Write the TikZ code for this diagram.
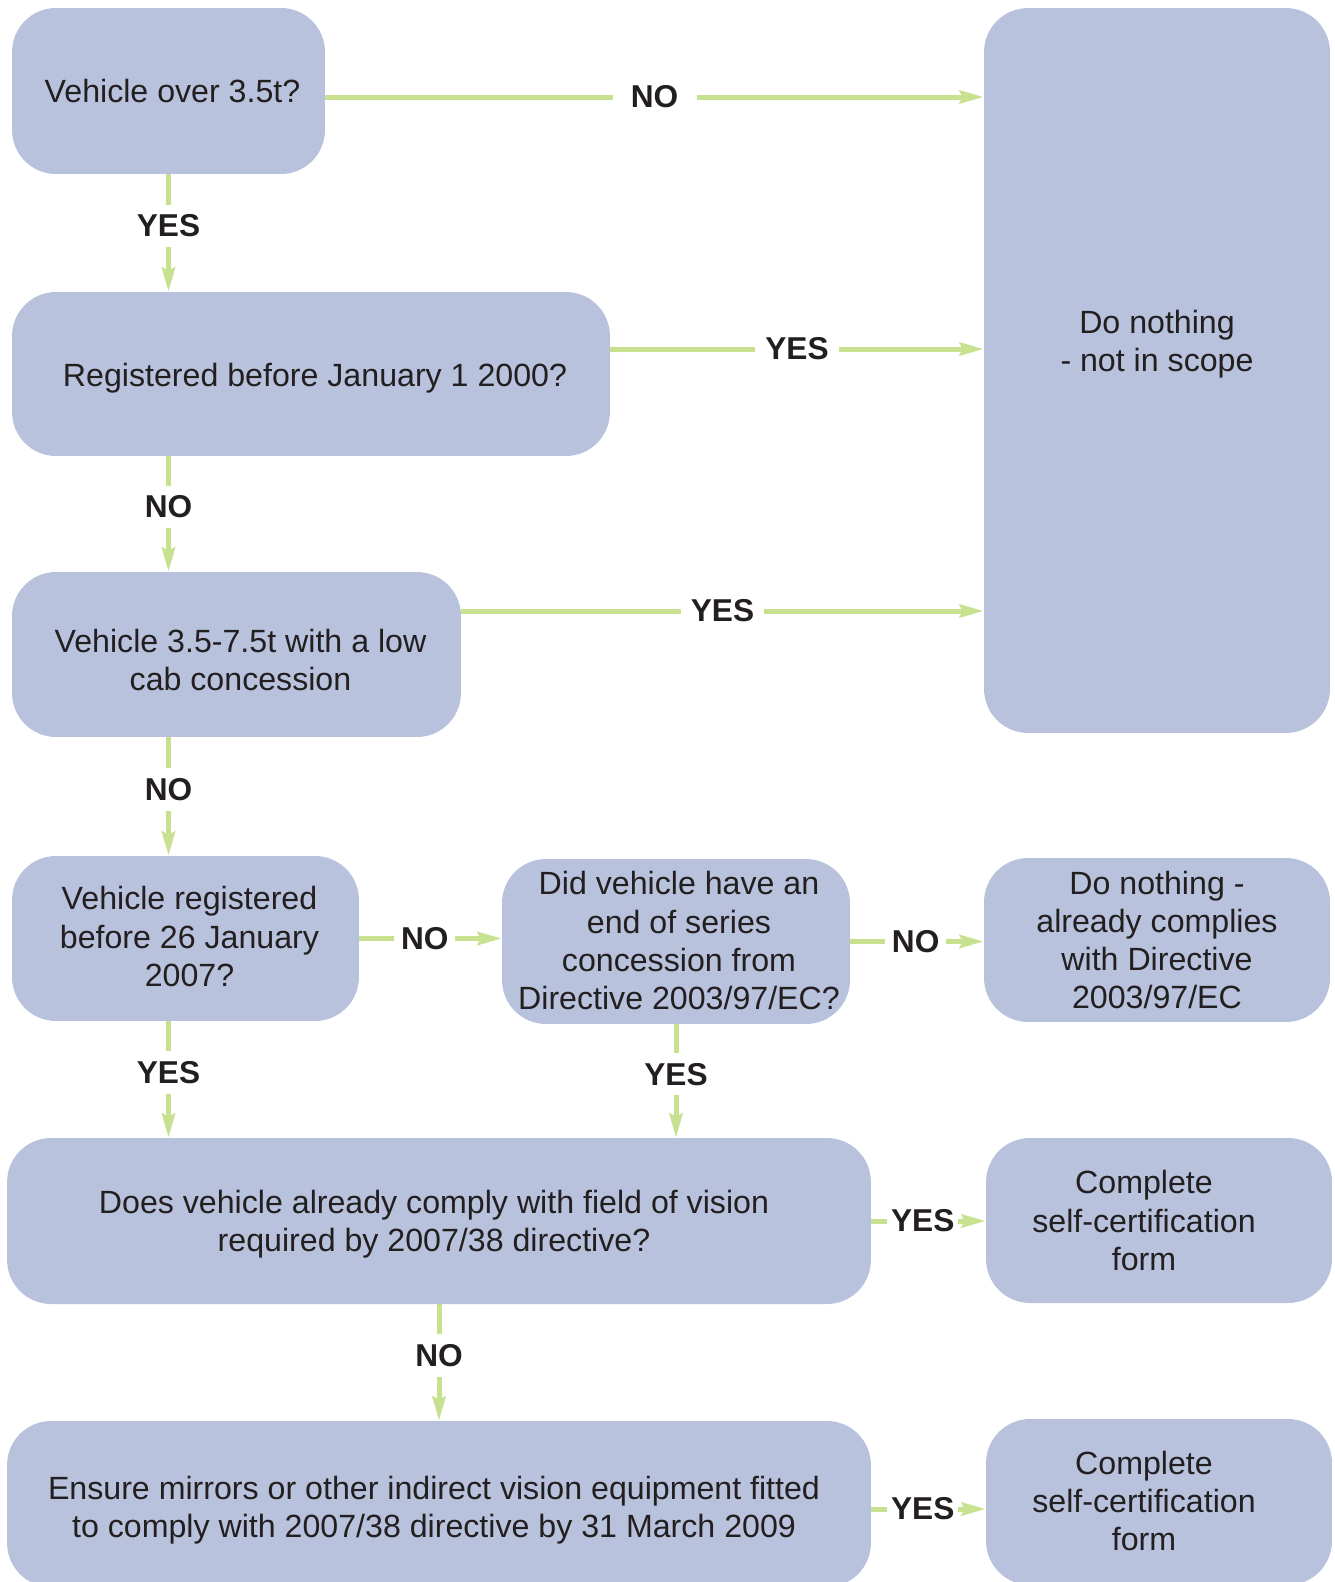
\documentclass[tikz,border=0pt]{standalone}
\usepackage{fontspec}
\setmainfont{Liberation Sans}
\usetikzlibrary{arrows.meta,calc}

\definecolor{boxblue}{RGB}{184,194,220}
\definecolor{flowgreen}{RGB}{200,225,145}
\definecolor{inkgray}{RGB}{35,31,32}

\tikzset{
  box/.style={fill=boxblue, rounded corners=0.88cm, align=center, text=inkgray,
    inner sep=0pt, font=\fontsize{18.3}{21.8}\selectfont},
  flow/.style={draw=flowgreen, line width=0.1cm,
    -{Stealth[length=0.48cm, width=0.26cm, inset=0.06cm]}},
  answer/.style={fill=white, text=inkgray, inner xsep=0.08cm, inner ysep=0.2cm,
    minimum width=1.22cm, font=\fontsize{18}{21.8}\selectfont\bfseries},
  wide/.style={answer, minimum width=1.68cm},
}
% text block set off centre: room left, room right, text, drop
\newcommand\boxtext[4]{\raisebox{-#4}[\height][\depth]{\begin{tabular}{@{\hspace{#1}}c@{\hspace{#2}}}#3\end{tabular}}}

\begin{document}
\begin{tikzpicture}[x=0.02cm, y=-0.02cm]
  \useasboundingbox (0,0) rectangle (1335,1582);

  % question boxes
  \node[box, minimum width=6.26cm, minimum height=3.32cm] (b1) at (168.5,91) {\boxtext{0.16cm}{0pt}{Vehicle over 3.5t?}{0.08cm}};
  \node[box, minimum width=11.96cm, minimum height=3.28cm] (b2) at (311,374) {\boxtext{0.16cm}{0pt}{Registered before January 1 2000?}{0.1cm}};
  \node[box, minimum width=8.98cm, minimum height=3.3cm] (b3) at (236.5,654.5) {\boxtext{0.16cm}{0pt}{Vehicle 3.5-7.5t with a low\\cab concession}{0.18cm}};
  \node[box, minimum width=6.94cm, minimum height=3.3cm] (b4) at (185.5,938.5) {\boxtext{0.16cm}{0pt}{Vehicle registered\\before 26 January\\2007?}{0.04cm}};
  \node[box, minimum width=6.96cm, minimum height=3.3cm] (b5) at (676,941.5) {\boxtext{0.12cm}{0pt}{Did vehicle have an\\end of series\\concession from\\Directive 2003/97/EC?}{0.06cm}};
  \node[box, minimum width=17.28cm, minimum height=3.32cm] (b7) at (439,1221) {\boxtext{0pt}{0.2cm}{Does vehicle already comply with field of vision\\required by 2007/38 directive?}{0.08cm}};
  \node[box, minimum width=17.28cm, minimum height=3.32cm] (b9) at (439,1504) {\boxtext{0pt}{0.2cm}{Ensure mirrors or other indirect vision equipment fitted\\to comply with 2007/38 directive by 31 March 2009}{0.14cm}};

  % outcome boxes
  \node[box, minimum width=6.92cm, minimum height=14.5cm] (big) at (1157,370.5) {Do nothing\\- not in scope\\[0.41cm]\mbox{}};
  \node[box, minimum width=6.92cm, minimum height=3.28cm] (b6) at (1157,940) {Do nothing -\\already complies\\with Directive\\2003/97/EC};
  \node[box, minimum width=6.92cm, minimum height=3.3cm] (b8) at (1159,1220.5) {\boxtext{0pt}{0.6cm}{Complete\\self-certification\\form}{0.08cm}};
  \node[box, minimum width=6.92cm, minimum height=3.32cm] (b10) at (1159,1502) {\boxtext{0pt}{0.6cm}{Complete\\self-certification\\form}{0.06cm}};

  % left column, downwards
  \foreach \a/\b/\t in {b1/b2/YES, b2/b3/NO, b3/b4/NO, b4/b7/YES}
    \draw[flow] (b1.south |- \a.south) -- (b1.south |- \b.north) node[answer, pos=0.44] {\t};
  \draw[flow] (b5.south) -- (b5.south |- b7.north) node[answer, pos=0.44] {YES};
  \draw[flow] (b7.south) -- (b7.south |- b9.north) node[answer, pos=0.44] {NO};

  % long arrows into the big box
  \coordinate (o1) at ($(b1.east)+(0,6)$);
  \coordinate (o2) at ($(b2.east)+(0,-25)$);
  \coordinate (o3) at ($(b3.east)+(0,-43.5)$);
  \draw[flow] (o1) -- (o1 -| big.west) node[wide, midway] {NO};
  \draw[flow] (o2) -- (o2 -| big.west) node[wide, midway] {YES};
  \draw[flow] (o3) -- (o3 -| big.west) node[wide, midway] {YES};

  % short arrows
  \coordinate (o9) at ($(b9.east)+(0,5)$);
  \draw[flow] (b4.east) -- (b4.east -| b5.west) node[answer, pos=0.46] {NO};
  \draw[flow] (b5.east) -- (b5.east -| b6.west) node[answer, pos=0.49] {NO};
  \draw[flow] (b7.east) -- (b7.east -| b8.west) node[answer, pos=0.45] {YES};
  \draw[flow] (o9) -- (o9 -| b10.west) node[answer, pos=0.45] {YES};
\end{tikzpicture}
\end{document}
